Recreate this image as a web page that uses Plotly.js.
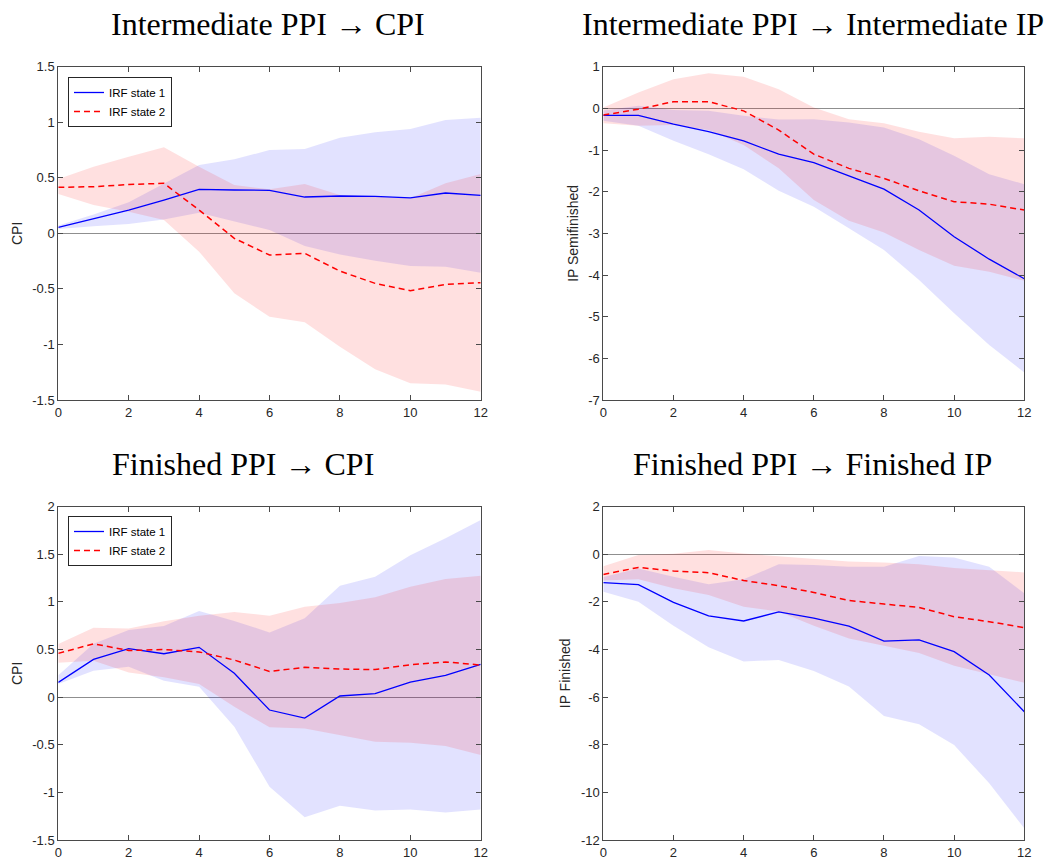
<!DOCTYPE html>
<html>
<head>
<meta charset="utf-8">
<script src="https://cdn.plot.ly/plotly-3.0.1.min.js"></script>
<style>
  html, body { margin: 0; padding: 0; background: #ffffff; }
  #chart { width: 1046px; height: 859px; }
</style>
</head>
<body>
<div id="chart"></div>
<script>
// Impulse horizon (months)
const horizon = [0, 1, 2, 3, 4, 5, 6, 7, 8, 9, 10, 11, 12];

// Panel titles and y-axis labels
const panelTitles = [
  'Intermediate PPI \u2192 CPI',
  'Intermediate PPI \u2192 Intermediate IP',
  'Finished PPI \u2192 CPI',
  'Finished PPI \u2192 Finished IP'
];
const yLabels = ['CPI', 'IP Semifinished', 'CPI', 'IP Finished'];
const legendNames = ['IRF state 1', 'IRF state 2'];

// Y tick values per panel
const yTicks1 = [-1.5, -1, -0.5, 0, 0.5, 1, 1.5];
const yTicks2 = [-7, -6, -5, -4, -3, -2, -1, 0, 1];
const yTicks3 = [-1.5, -1, -0.5, 0, 0.5, 1, 1.5, 2];
const yTicks4 = [-12, -10, -8, -6, -4, -2, 0, 2];
const xTicks = [0, 2, 4, 6, 8, 10, 12];

// Intermediate PPI -> CPI
const intCpiS1   = [0.054, 0.13, 0.21, 0.30, 0.396, 0.39, 0.387, 0.327, 0.336, 0.333, 0.32, 0.363, 0.342];
const intCpiS1Hi = [0.07, 0.17, 0.28, 0.45, 0.615, 0.666, 0.75, 0.76, 0.86, 0.91, 0.94, 1.02, 1.04];
const intCpiS1Lo = [0.04, 0.065, 0.085, 0.125, 0.185, 0.105, 0.03, -0.114, -0.19, -0.246, -0.294, -0.30, -0.354];
const intCpiS2   = [0.414, 0.42, 0.44, 0.45, 0.21, -0.045, -0.195, -0.18, -0.34, -0.45, -0.516, -0.46, -0.444];
const intCpiS2Hi = [0.49, 0.60, 0.69, 0.774, 0.60, 0.435, 0.396, 0.444, 0.345, 0.33, 0.315, 0.45, 0.534];
const intCpiS2Lo = [0.354, 0.255, 0.195, 0.12, -0.165, -0.54, -0.75, -0.80, -1.02, -1.224, -1.35, -1.36, -1.425];

// Intermediate PPI -> Intermediate IP
const intIpS1   = [-0.17, -0.17, -0.38, -0.56, -0.78, -1.1, -1.3, -1.62, -1.94, -2.44, -3.08, -3.62, -4.09];
const intIpS1Hi = [-0.05, 0.06, -0.04, -0.06, -0.18, -0.27, -0.26, -0.34, -0.46, -0.74, -1.14, -1.58, -1.82];
const intIpS1Lo = [-0.3, -0.42, -0.78, -1.1, -1.46, -1.98, -2.36, -2.88, -3.4, -4.12, -4.92, -5.68, -6.34];
const intIpS2   = [-0.16, -0.02, 0.16, 0.16, -0.06, -0.52, -1.1, -1.44, -1.68, -1.98, -2.24, -2.30, -2.44];
const intIpS2Hi = [0.02, 0.38, 0.70, 0.84, 0.76, 0.46, 0.02, -0.26, -0.36, -0.56, -0.72, -0.68, -0.72];
const intIpS2Lo = [-0.36, -0.42, -0.4, -0.52, -0.88, -1.44, -2.2, -2.7, -2.98, -3.4, -3.78, -3.92, -4.14];

// Finished PPI -> CPI
const finCpiS1   = [0.155, 0.397, 0.509, 0.456, 0.523, 0.25, -0.135, -0.22, 0.012, 0.036, 0.159, 0.229, 0.344];
const finCpiS1Hi = [0.23, 0.56, 0.705, 0.747, 0.905, 0.80, 0.68, 0.828, 1.17, 1.265, 1.49, 1.668, 1.86];
const finCpiS1Lo = [0.138, 0.278, 0.32, 0.173, 0.11, -0.31, -0.94, -1.26, -1.14, -1.19, -1.18, -1.21, -1.18];
const finCpiS2   = [0.46, 0.56, 0.49, 0.50, 0.475, 0.39, 0.27, 0.313, 0.295, 0.29, 0.34, 0.37, 0.337];
const finCpiS2Hi = [0.557, 0.73, 0.72, 0.797, 0.856, 0.894, 0.856, 0.95, 0.99, 1.05, 1.16, 1.24, 1.275];
const finCpiS2Lo = [0.362, 0.383, 0.26, 0.208, 0.138, -0.1, -0.317, -0.33, -0.397, -0.467, -0.478, -0.513, -0.607];

// Finished PPI -> Finished IP
const finIpS1   = [-1.19, -1.27, -2.02, -2.59, -2.8, -2.42, -2.68, -3.02, -3.65, -3.59, -4.09, -5.07, -6.61];
const finIpS1Hi = [-0.95, -0.6, -0.94, -1.26, -1.05, -0.42, -0.45, -0.52, -0.52, -0.07, -0.13, -0.52, -1.64];
const finIpS1Lo = [-1.57, -1.99, -3.0, -3.9, -4.5, -4.44, -4.9, -5.55, -6.79, -7.14, -8.01, -9.62, -11.51];
const finIpS2   = [-0.85, -0.55, -0.70, -0.77, -1.1, -1.32, -1.6, -1.94, -2.09, -2.23, -2.62, -2.83, -3.08];
const finIpS2Hi = [-0.5, -0.03, 0.02, 0.18, 0.03, -0.07, -0.2, -0.3, -0.34, -0.42, -0.57, -0.66, -0.76];
const finIpS2Lo = [-1.1, -1.05, -1.43, -1.71, -2.2, -2.4, -3.0, -3.54, -3.86, -4.15, -4.68, -5.03, -5.4];

const BLUE = '#0000ff';
const RED = '#ff0000';
const BLUE_BAND = 'rgba(0,0,255,0.115)';
const RED_BAND = 'rgba(255,0,0,0.12)';

// Closed polygon for a confidence band: upper edge forward, lower edge back
function band(hi, lo, color, xa, ya) {
  return {
    x: horizon.concat(horizon.slice().reverse()),
    y: hi.concat(lo.slice().reverse()),
    xaxis: xa, yaxis: ya,
    type: 'scatter', mode: 'lines', fill: 'toself',
    fillcolor: color, line: { width: 0, color: 'rgba(0,0,0,0)' },
    hoverinfo: 'skip', showlegend: false
  };
}

function irf(y, color, dash, width, xa, ya, name, legendId) {
  return {
    x: horizon, y: y, xaxis: xa, yaxis: ya,
    type: 'scatter', mode: 'lines', name: name,
    line: { color: color, width: width, dash: dash },
    showlegend: !!legendId, legend: legendId || 'legend'
  };
}

const panels = [
  { xa: 'x',  ya: 'y',  s1: intCpiS1, s1Hi: intCpiS1Hi, s1Lo: intCpiS1Lo, s2: intCpiS2, s2Hi: intCpiS2Hi, s2Lo: intCpiS2Lo, leg: 'legend' },
  { xa: 'x2', ya: 'y2', s1: intIpS1,  s1Hi: intIpS1Hi,  s1Lo: intIpS1Lo,  s2: intIpS2,  s2Hi: intIpS2Hi,  s2Lo: intIpS2Lo,  leg: null },
  { xa: 'x3', ya: 'y3', s1: finCpiS1, s1Hi: finCpiS1Hi, s1Lo: finCpiS1Lo, s2: finCpiS2, s2Hi: finCpiS2Hi, s2Lo: finCpiS2Lo, leg: 'legend2' },
  { xa: 'x4', ya: 'y4', s1: finIpS1,  s1Hi: finIpS1Hi,  s1Lo: finIpS1Lo,  s2: finIpS2,  s2Hi: finIpS2Hi,  s2Lo: finIpS2Lo,  leg: null }
];

const traces = [];
panels.forEach(p => {
  traces.push(band(p.s1Hi, p.s1Lo, BLUE_BAND, p.xa, p.ya));
  traces.push(band(p.s2Hi, p.s2Lo, RED_BAND, p.xa, p.ya));
  traces.push(irf(p.s1, BLUE, 'solid', 1.3, p.xa, p.ya, legendNames[0], p.leg));
  traces.push(irf(p.s2, RED, '6px,4px', 1.5, p.xa, p.ya, legendNames[1], p.leg));
});

const W = 1046, H = 859;
const px = v => v / W;
const py = v => 1 - v / H;

const AXIS_COLOR = '#4a4a4a';
const TICK_FONT = { family: 'Liberation Sans, Arial, sans-serif', size: 13, color: '#262626' };

function xAxis(domain, anchor) {
  return {
    domain: domain, anchor: anchor, range: [0, 12],
    tickvals: xTicks, ticktext: xTicks.map(String),
    ticks: 'inside', ticklen: 5, tickcolor: AXIS_COLOR, tickwidth: 1,
    showline: true, linecolor: AXIS_COLOR, linewidth: 1, mirror: 'allticks',
    showgrid: false, zeroline: false, tickfont: TICK_FONT, fixedrange: true
  };
}
function yAxis(domain, anchor, range, ticks, label) {
  return {
    domain: domain, anchor: anchor, range: range,
    tickvals: ticks, ticktext: ticks.map(String),
    ticks: 'inside', ticklen: 5, tickcolor: AXIS_COLOR, tickwidth: 1,
    showline: true, linecolor: AXIS_COLOR, linewidth: 1, mirror: 'allticks',
    showgrid: false, zeroline: true, zerolinecolor: '#8f8f8f', zerolinewidth: 1,
    tickfont: TICK_FONT, fixedrange: true,
    title: { text: label, font: { family: 'Liberation Sans, Arial, sans-serif', size: 14, color: '#262626' }, standoff: 6 }
  };
}

const xLeft = [px(58.3), px(480.7)];
const xRight = [px(603.3), px(1024.3)];
const yTop = [py(400), py(66.7)];
const yBot = [py(840), py(506.7)];

const TITLE_FONT = { family: 'Liberation Serif, Times New Roman, serif', size: 32, color: '#000000' };
function titleAnn(text, cx, cy) {
  return { text: text, xref: 'paper', yref: 'paper', x: px(cx), y: py(cy),
           xanchor: 'center', yanchor: 'middle', showarrow: false, font: TITLE_FONT };
}

const legendStyle = (y) => ({
  x: px(68), y: py(y), xanchor: 'left', yanchor: 'top',
  bgcolor: '#ffffff', bordercolor: '#262626', borderwidth: 1,
  font: { family: 'Liberation Sans, Arial, sans-serif', size: 11.5, color: '#000000' },
  tracegroupgap: 0, itemwidth: 30
});

const layout = {
  width: W, height: H,
  margin: { l: 0, r: 0, t: 0, b: 0 },
  paper_bgcolor: '#ffffff', plot_bgcolor: '#ffffff',
  showlegend: true,
  xaxis: xAxis(xLeft, 'y'),
  yaxis: yAxis(yTop, 'x', [-1.5, 1.5], yTicks1, yLabels[0]),
  xaxis2: xAxis(xRight, 'y2'),
  yaxis2: yAxis(yTop, 'x2', [-7, 1], yTicks2, yLabels[1]),
  xaxis3: xAxis(xLeft, 'y3'),
  yaxis3: yAxis(yBot, 'x3', [-1.5, 2], yTicks3, yLabels[2]),
  xaxis4: xAxis(xRight, 'y4'),
  yaxis4: yAxis(yBot, 'x4', [-12, 2], yTicks4, yLabels[3]),
  legend: legendStyle(77),
  legend2: legendStyle(516),
  annotations: [
    titleAnn(panelTitles[0], 268, 24),
    titleAnn(panelTitles[1], 813, 24),
    titleAnn(panelTitles[2], 242.5, 463.5),
    titleAnn(panelTitles[3], 812.5, 463.5)
  ]
};

Plotly.newPlot('chart', traces, layout, { staticPlot: true, displayModeBar: false });
</script>
</body>
</html>
